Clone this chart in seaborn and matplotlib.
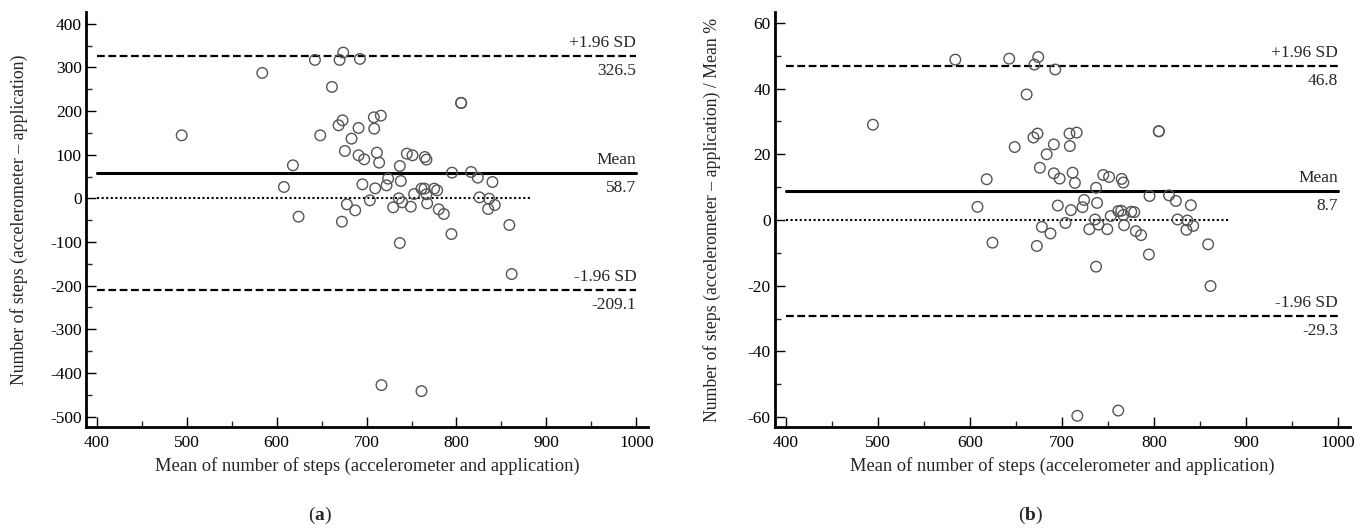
import matplotlib
matplotlib.use("Agg")
import matplotlib.pyplot as plt
import seaborn as sns
import numpy as np
import pandas as pd
from matplotlib.ticker import MultipleLocator

# ---- data ----
mean_steps = [494.4, 584.0, 642.6, 670.0, 674.1, 692.6, 661.5, 805.2, 805.2, 673.3,
              668.9, 708.1, 715.9, 691.1, 708.5, 648.5, 683.3, 675.9, 691.1, 697.4,
              711.5, 714.0, 618.1, 737.0, 744.8, 751.1, 764.8, 766.6, 795.1, 816.3,
              823.7, 840.0, 724.0, 738.1, 722.2, 695.4, 709.6, 608.1, 761.1, 764.4,
              775.2, 778.5, 752.9, 766.6, 735.9, 703.7, 739.6, 825.6, 836.3, 842.6,
              835.2, 767.4, 749.2, 729.6, 780.3, 785.9, 678.1, 687.4, 624.4, 672.6,
              794.4, 858.8, 737.0, 861.4, 716.6, 761.1]
diff_steps = [144.4, 287.4, 317.2, 317.2, 334.0, 319.5, 255.3, 218.6, 218.6, 178.8,
              167.4, 185.7, 189.5, 161.3, 159.7, 144.4, 136.8, 108.5, 98.6, 89.4,
              104.7, 81.8, 75.7, 74.1, 102.4, 98.6, 94.8, 88.7, 58.9, 60.4,
              47.4, 37.5, 45.1, 39.7, 29.8, 32.1, 22.9, 26.0, 22.2, 22.2,
              22.2, 18.3, 9.9, 9.2, 0.0, -4.6, -9.2, 2.3, -0.8, -15.3,
              -24.5, -11.5, -19.1, -20.6, -25.2, -35.9, -13.8, -27.5, -42.0, -53.5,
              -81.8, -61.1, -102.4, -173.5, -428.0, -441.8]
diff_pct = [29.0, 48.8, 49.1, 47.3, 49.6, 45.8, 38.2, 27.0, 27.0, 26.3,
            25.1, 26.3, 26.6, 23.0, 22.5, 22.2, 20.0, 15.9, 14.2, 12.6,
            14.4, 11.3, 12.4, 9.8, 13.7, 13.1, 12.5, 11.4, 7.3, 7.5,
            5.8, 4.5, 6.1, 5.2, 3.9, 4.4, 3.0, 4.0, 2.7, 2.8,
            2.5, 2.4, 1.2, 1.5, 0.15, -0.9, -1.4, 0.15, -0.15, -1.8,
            -3.0, -1.6, -2.8, -2.8, -3.4, -4.6, -2.1, -4.1, -6.9, -7.9,
            -10.5, -7.4, -14.2, -20.1, -59.6, -58.0]

# reference lines: (mean, +1.96 SD, -1.96 SD)
lines_a = [58.7, 326.5, -209.1]
lines_b = [8.7, 46.8, -29.3]
x_ticks = [400, 500, 600, 700, 800, 900, 1000]
yticks_a = [-500, -400, -300, -200, -100, 0, 100, 200, 300, 400]
yticks_b = [-60, -40, -20, 0, 20, 40, 60]

xlabel = "Mean of number of steps (accelerometer and application)"
ylabel_a = "Number of steps (accelerometer \u2013 application)"
ylabel_b = "Number of steps (accelerometer \u2013 application) / Mean %"

sns.set_theme(style="white")
plt.rcParams["font.family"] = ["Liberation Serif", "DejaVu Serif"]
plt.rcParams["mathtext.fontset"] = "custom"
plt.rcParams["mathtext.rm"] = "Liberation Serif"
plt.rcParams["mathtext.bf"] = "Liberation Serif:bold"

df = pd.DataFrame({"m": mean_steps, "d": diff_steps, "p": diff_pct})

fig = plt.figure(figsize=(13.64, 5.29), dpi=100)
ax_a = fig.add_axes([86/1364, 1-427/529, (648-86)/1364, (427-12)/529])
ax_b = fig.add_axes([775/1364, 1-427/529, (1350-775)/1364, (427-12)/529])

FS = 12.5


def draw(ax, ycol, lines, yticks, ylim, yminor, ylabel, fmt, ylpad):
    sns.scatterplot(data=df, x="m", y=ycol, ax=ax, marker="o", s=58,
                    facecolor="none", edgecolor="#555555", linewidth=1.0,
                    zorder=3)
    mean, up, lo = lines
    ax.plot([400, 1000], [mean, mean], color="black", lw=2.2, zorder=2)
    ax.plot([400, 1000], [up, up], color="black", lw=1.6, ls=(0, (3.5, 1.6)), zorder=2)
    ax.plot([400, 1000], [lo, lo], color="black", lw=1.6, ls=(0, (3.5, 1.6)), zorder=2)
    ax.plot([400, 882], [0, 0], color="black", lw=1.5, ls=(0, (1, 1.2)), zorder=2)
    span = ylim[1] - ylim[0]
    off = span * 0.012
    ax.text(1000, up + off, "+1.96 SD", ha="right", va="bottom", fontsize=FS)
    ax.text(1000, up - off * 1.4, fmt.format(up), ha="right", va="top", fontsize=FS)
    ax.text(1000, mean + off, "Mean", ha="right", va="bottom", fontsize=FS)
    ax.text(1000, mean - off * 1.4, fmt.format(mean), ha="right", va="top", fontsize=FS)
    ax.text(1000, lo + off, "-1.96 SD", ha="right", va="bottom", fontsize=FS)
    ax.text(1000, lo - off * 1.4, fmt.format(lo), ha="right", va="top", fontsize=FS)

    ax.set_xlim(388, 1013)
    ax.set_ylim(*ylim)
    ax.set_xticks(x_ticks)
    ax.set_yticks(yticks)
    ax.set_yticklabels([str(t) for t in yticks])
    ax.xaxis.set_minor_locator(MultipleLocator(50))
    ax.yaxis.set_minor_locator(MultipleLocator(yminor))
    ax.tick_params(which="major", direction="in", length=7, width=1.0,
                   labelsize=FS, pad=6, colors="black", left=True, bottom=True)
    ax.tick_params(which="minor", direction="in", length=4.5, width=1.0,
                   left=True, bottom=True)
    ax.tick_params(axis="y", which="major", pad=3)
    for s in ["top", "right"]:
        ax.spines[s].set_visible(False)
    for s in ["left", "bottom"]:
        ax.spines[s].set_linewidth(2.0)
        ax.spines[s].set_color("black")
    ax.set_xlabel(xlabel, fontsize=13.3, labelpad=4)
    ax.set_ylabel(ylabel, fontsize=12.8, labelpad=ylpad)
    ax.set_facecolor("white")


draw(ax_a, "d", lines_a, yticks_a, (-524, 427), 50, ylabel_a, "{:.1f}", 16)
draw(ax_b, "p", lines_b, yticks_b, (-63, 63.3), 10, ylabel_b, "{:.1f}", 19)

fig.text(320/1364, 1-515/529, r"($\mathbf{a}$)", ha="center", va="center", fontsize=14)
fig.text(1031/1364, 1-515/529, r"($\mathbf{b}$)", ha="center", va="center", fontsize=14)

fig.savefig("out.png", dpi=100, facecolor="white")
